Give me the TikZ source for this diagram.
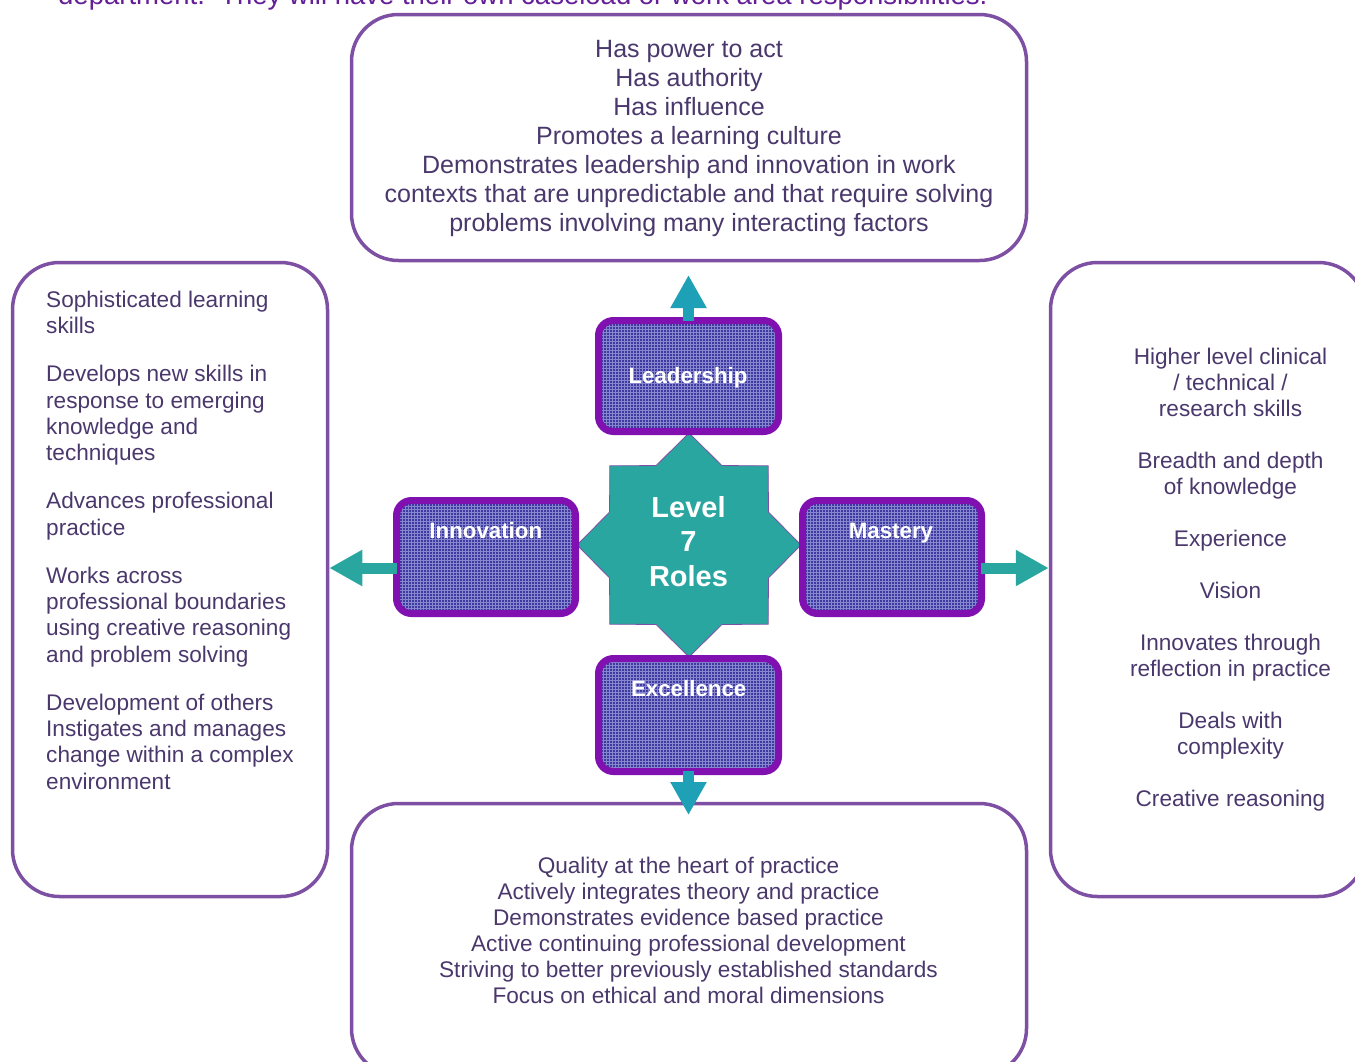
\documentclass[tikz,border=0pt]{standalone}
\usepackage{fontspec}
\setmainfont{Liberation Sans}
\usetikzlibrary{arrows.meta,patterns,calc}
\definecolor{txt}{RGB}{74,56,108}
\definecolor{framecol}{RGB}{126,80,164}
\definecolor{roleframe}{RGB}{128,16,176}
\definecolor{rolefill}{RGB}{62,58,160}
\definecolor{rolegrid}{RGB}{135,135,208}
\definecolor{starteal}{RGB}{42,166,160}
\definecolor{arrowblue}{RGB}{30,160,182}
\definecolor{headline}{RGB}{100,30,150}
\begin{document}
\begin{tikzpicture}[x=1pt,y=-1pt,
  outerbox/.style={draw=framecol,line width=3.5pt,rounded corners=47pt,inner sep=0pt},
  rolebox/.style={draw=roleframe,line width=7pt,rounded corners=15pt,inner sep=0pt,
    preaction={fill=rolefill},preaction={pattern=grid,pattern color=rolegrid}},
  rolelabel/.style={text=white,font=\bfseries\fontsize{22.3pt}{26pt}\selectfont,anchor=base,inner sep=0pt},
  corelabel/.style={text=white,font=\bfseries\fontsize{29pt}{34pt}\selectfont,anchor=base,inner sep=0pt},
  toptext/.style={text=txt,font=\fontsize{25pt}{29pt}\selectfont,anchor=base,inner sep=0pt},
  bodytext/.style={text=txt,font=\fontsize{22.6pt}{26pt}\selectfont,anchor=base,inner sep=0pt},
  link/.style={line width=11pt,-{Triangle[width=34pt,length=33pt]}},
]
\path[use as bounding box] (0,0) rectangle (1355,1061);
\clip (0,0) rectangle (1355,1061);

% cut-off heading line (cut by the top edge, as in the source)
\node[anchor=base west,inner sep=0pt,text=headline,font=\fontsize{27.5pt}{30pt}\selectfont] (intro) at (58,4.5)
  {department.\ \ They will have their own caseload or work area responsibilities.};

% outer boxes
\node[outerbox,minimum width=675pt,minimum height=246pt] (topbox) at (689,137.5) {};
\node[outerbox,minimum width=315pt,minimum height=634pt] (leftbox) at (170,579.5) {};
\node[outerbox,minimum width=315pt,minimum height=634pt] (rightbox) at (1208,579.5) {};
\node[outerbox,minimum width=675pt,minimum height=272pt] (botbox) at (689,939.5) {};

% central star
\draw[draw=framecol,line width=0.8pt,fill=starteal,shift={(689,545)}]
  (0:112) \foreach \a in {0,45,...,315}{ -- (\a:112) -- ({\a+22.5}:86)} -- cycle;

% role boxes
\path (688.5,376) coordinate (leadc) (486,557) coordinate (innovc)
      (892,557) coordinate (mastc) (688.5,715) coordinate (excelc);

\node[rolebox,minimum width=180pt,minimum height=111pt] (lead) at (leadc) {};
\node[rolebox,minimum width=179pt,minimum height=113pt] (innov) at (innovc) {};
\node[rolebox,minimum width=179pt,minimum height=113pt] (mast) at (mastc) {};
\node[rolebox,minimum width=180pt,minimum height=113pt] (excel) at (excelc) {};

% arrows
\coordinate (upend) at ($(lead.north)+(0,-42)$);
\coordinate (downend) at ($(excel.south)+(0,40)$);
\coordinate (la) at ([yshift=-11pt]innov.west);
\coordinate (ra) at ([yshift=-11pt]mast.east);
\draw[link,arrowblue] ([yshift=-4pt]lead.north) -- (upend);
\draw[link,arrowblue] ([yshift=4pt]excel.south) -- (downend);
\draw[link,starteal] ([xshift=4pt]la) -- (la -| leftbox.east);
\draw[link,starteal] ([xshift=-4pt]ra) -- (ra -| rightbox.west);

% role labels
\node[rolelabel] (leadlbl) at (688,383.3) {Leadership};
\node[rolelabel] (innovlbl) at (485.8,538.3) {Innovation};
\node[rolelabel] (mastlbl) at (891,538.3) {Mastery};
\node[rolelabel] (excellbl) at (688.7,696.7) {Excellence};

\node[corelabel] (core1) at (688.5,517.7) {Level};
\node[corelabel] (core2) at (688.5,551.7) {7};
\node[corelabel] (core3) at (688.5,586.7) {Roles};

% top box text
\foreach \t [count=\i from 0] in {Has power to act,Has authority,Has influence,Promotes a learning culture,Demonstrates leadership and innovation in work,contexts that are unpredictable and that require solving,problems involving many interacting factors}
  \node[toptext] (top\i) at (689,{57.8+29*\i}) {\t};

% left box text
\foreach \y/\t [count=\i] in {307.3/Sophisticated learning,333.5/skills,381.9/Develops new skills in,408.1/response to emerging,434.3/knowledge and,460.5/techniques,508.9/Advances professional,535.1/practice,583.5/Works across,609.7/professional boundaries,635.9/using creative reasoning,662.1/and problem solving,710.5/Development of others,736.7/Instigates and manages,762.9/change within a complex,789.1/environment}
  \node[bodytext,anchor=base west] (left\i) at (46,\y) {\t};

% right box text
\node[bodytext] (right1) at (1230.5,364.5) {Higher level clinical};
\node[bodytext] (right2) at (1230.5,390.5) {/ technical /};
\node[bodytext] (right3) at (1230.5,416.5) {research skills};
\node[bodytext] (right4) at (1230.5,468.5) {Breadth and depth};
\node[bodytext] (right5) at (1230.5,494.5) {of knowledge};
\node[bodytext] (right6) at (1230.5,546.5) {Experience};
\node[bodytext] (right7) at (1230.5,598.5) {Vision};
\node[bodytext] (right8) at (1230.5,650.5) {Innovates through};
\node[bodytext] (right9) at (1230.5,676.5) {reflection in practice};
\node[bodytext] (right10) at (1230.5,728.5) {Deals with};
\node[bodytext] (right11) at (1230.5,754.5) {complexity};
\node[bodytext] (right12) at (1230.5,806.5) {Creative reasoning};

% bottom box text
\foreach \t [count=\i from 0] in {Quality at the heart of practice,Actively integrates theory and practice,Demonstrates evidence based practice,Active continuing professional development,Striving to better previously established standards,Focus on ethical and moral dimensions}
  \node[bodytext] (bot\i) at (688.5,{873.2+26*\i}) {\t};
\end{tikzpicture}
\end{document}
